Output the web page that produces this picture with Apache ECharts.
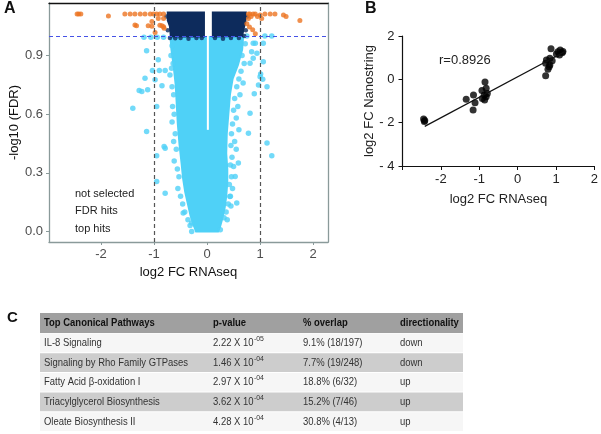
<!DOCTYPE html>
<html><head><meta charset="utf-8">
<script src="https://cdn.jsdelivr.net/npm/echarts@6/dist/echarts.min.js"></script>
<style>html,body{margin:0;padding:0;background:#fff}#c{width:601px;height:434px}</style>
</head><body><div id="c"></div>
<script>
// ---------- Panel A: volcano plot ----------
const volcanoXTicks = [-2, -1, 0, 1, 2];
const volcanoYTicks = [0, 0.3, 0.6, 0.9];
const fdrThreshold = 1.0;
const fcThresholds = [-1, 1];
// envelope of the dense "not selected" cloud
const coreEnvelope = [
  [-0.22,-0.005],[-0.27,0.03],[-0.33,0.08],[-0.38,0.14],[-0.43,0.20],[-0.47,0.27],[-0.50,0.35],
  [-0.54,0.45],[-0.57,0.55],[-0.59,0.65],[-0.61,0.75],[-0.65,0.85],[-0.69,0.93],[-0.71,1.0],
  [0.70,1.0],[0.68,0.93],[0.60,0.85],[0.50,0.78],[0.45,0.70],[0.42,0.60],[0.39,0.50],[0.38,0.40],
  [0.40,0.32],[0.40,0.25],[0.38,0.18],[0.35,0.12],[0.30,0.06],[0.26,0.02],[0.22,-0.005]
];
const centerGap = [[0.015,0.52],[0.015,1.0]];
// envelopes of the dense "FDR hits" blocks
const fdrLeftBlock = [[-0.76,1.125],[-0.04,1.125],[-0.04,0.992],[-0.70,0.992],[-0.72,1.05],[-0.76,1.08]];
const fdrRightBlock = [[0.09,1.125],[0.75,1.125],[0.74,1.07],[0.70,1.03],[0.68,0.995],[0.09,0.992]];
const fdrEdgePoints = [
  [-0.70,0.99],[-0.6,0.988],[-0.5,0.99],[-0.35,0.986],[-0.2,0.99],[-0.1,0.99],[0.15,0.99],
  [0.3,0.986],[0.45,0.99],[0.6,0.99],[0.7,1.0],[-0.74,1.03],[0.73,1.03],[-0.77,1.1],[0.76,1.1]
];
// scattered "not selected" points
const notSelectedPoints = [
  [-1.19,0.994],[-1.06,0.994],[-0.94,0.994],[-0.82,0.994],[-1.14,0.925],[-0.92,0.878],[-0.67,0.835],
  [-1.03,0.823],[-0.90,0.823],[-0.79,0.823],[-0.98,0.776],[-1.17,0.784],[-1.28,0.721],[-1.23,0.716],
  [-1.12,0.725],[-0.85,0.745],[-1.40,0.631],[-0.95,0.639],[-1.14,0.511],[-0.95,0.387],[-0.81,0.435],
  [-0.79,0.426],[-0.95,0.256],[-0.79,0.196],[-0.45,0.094],[-0.29,0.043],[-0.29,0.0],
  [0.75,1.0],[1.09,1.0],[1.22,1.0],[0.87,0.963],[1.06,0.963],[0.91,0.963],[0.84,0.92],[0.94,0.912],
  [0.87,0.886],[1.06,0.869],[0.81,0.861],[1.01,0.806],[1.0,0.792],[1.05,0.779],[0.97,0.75],[1.13,0.741],
  [0.89,0.704],[0.81,0.605],[0.78,0.503],[1.13,0.452],[1.22,0.387],[0.53,0.281],[0.56,0.145],[0.43,0.179],
  [0.38,0.06],[0.25,0.009],[0.59,0.35],[0.5,0.332],
  [-0.66,0.95],[-0.68,0.90],[-0.64,0.86],[-0.70,0.80],[-0.66,0.74],[-0.63,0.70],[-0.65,0.64],[-0.62,0.60],
  [-0.66,0.56],[-0.60,0.50],[-0.63,0.46],[-0.58,0.42],[-0.62,0.36],[-0.56,0.32],[-0.53,0.28],[-0.55,0.22],
  [-0.50,0.18],[-0.46,0.14],[-0.42,0.10],[-0.36,0.06],[-0.32,0.03],
  [0.72,0.96],[0.66,0.90],[0.70,0.86],[0.64,0.82],[0.60,0.78],[0.68,0.76],[0.56,0.74],[0.62,0.70],
  [0.52,0.68],[0.58,0.64],[0.50,0.62],[0.55,0.58],[0.48,0.55],[0.60,0.52],[0.46,0.50],[0.52,0.46],
  [0.45,0.44],[0.55,0.42],[0.47,0.38],[0.44,0.34],[0.46,0.28],[0.48,0.22],[0.44,0.18],[0.40,0.14],
  [0.36,0.10],[0.32,0.07],[0.42,0.24],[0.45,0.13]
];
const topHitPoints = [
  [-2.45,1.113],[-2.42,1.113],[-2.38,1.113],[-1.86,1.103],[-1.55,1.113],[-1.45,1.113],[-1.36,1.113],
  [-1.26,1.113],[-1.17,1.113],[-1.07,1.113],[-1.01,1.113],[-0.95,1.113],[-0.89,1.113],[-0.82,1.113],
  [-1.36,1.057],[-1.33,1.052],[-1.11,1.052],[-1.04,1.05],[-0.89,1.055],[-0.85,1.052],[-0.82,1.048],
  [-0.81,1.04],[-0.98,1.018],[-0.82,1.09],[-0.92,1.09],[-1.04,1.074],
  [0.78,1.113],[0.81,1.113],[0.87,1.113],[0.91,1.113],[1.0,1.108],[1.09,1.113],[1.19,1.113],
  [1.28,1.113],[1.44,1.108],[1.49,1.10],[1.75,1.079],[0.78,1.09],[0.75,1.063],[0.80,1.046],
  [0.86,1.032],[0.91,1.012],[1.03,1.09],[0.95,1.10],[0.83,1.10]
];
const legendLabels = ['not selected', 'FDR hits', 'top hits'];

// ---------- Panel B: Nanostring vs RNAseq ----------
const nanoPoints = [
  [-2.45,-1.83],[-2.43,-1.95],[-2.42,-1.9],[-1.34,-0.92],[-1.15,-0.72],[-1.11,-1.08],[-1.16,-1.41],
  [-0.85,-0.12],[-0.93,-0.52],[-0.82,-0.41],[-0.87,-0.72],[-0.92,-0.88],[-0.82,-0.8],[-0.86,-0.95],
  [-0.79,-0.65],[0.87,1.41],[0.75,0.89],[0.73,0.74],[0.84,0.66],[0.79,0.46],[0.73,0.17],[0.9,0.86],
  [0.84,0.97],[1.05,1.27],[1.09,1.12],[1.16,1.23],[1.11,1.35],[1.01,1.17],[1.18,1.29],[0.82,0.58]
];
const regressionLine = [[-2.42,-2.17],[1.26,1.31]];
const correlationText = 'r=0.8926';

// ---------- Panel C: table ----------
const tableHeaders = ['Top Canonical Pathways', 'p-value', '% overlap', 'directionality'];
const pathways = ['IL-8 Signaling', 'Signaling by Rho Family GTPases', 'Fatty Acid \u03b2-oxidation I',
  'Triacylglycerol Biosynthesis', 'Oleate Biosynthesis II'];
const pMantissa = ['2.22', '1.46', '2.97', '3.62', '4.28'];
const pExponent = ['-05', '-04', '-04', '-04', '-04'];
const overlaps = ['9.1% (18/197)', '7.7% (19/248)', '18.8% (6/32)', '15.2% (7/46)', '30.8% (4/13)'];
const directions = ['down', 'down', 'up', 'up', 'up'];

// ---------- styles ----------
const FONT = '"Liberation Sans", Arial, Helvetica, sans-serif';
const LIGHT = '#4fd1f7', NAVY = '#0d2b5c', ORANGE = '#ec7422';
const AXA = '#8a9a9a';
const TFONT = '11px ' + FONT;
const TSCALE = 0.86;

function polygonSeries(points, color, xi, yi) {
  return {
    type: 'custom', xAxisIndex: xi, yAxisIndex: yi, silent: true, animation: false,
    data: [points[0]],
    renderItem: (p, api) => ({
      type: 'polygon',
      shape: { points: points.map(pt => api.coord(pt)) },
      style: { fill: color }
    })
  };
}

const measureCtx = document.createElement('canvas').getContext('2d');
function textWidth(t, font) { measureCtx.font = font; return measureCtx.measureText(t).width; }

const graphic = [];
function txt(x, y, text, opts, sx) {
  graphic.push({ type: 'text', x, y, scaleX: sx || 1, silent: true,
    style: Object.assign({ text, fill: '#333', font: '13px ' + FONT, textAlign: 'left', textVerticalAlign: 'middle' }, opts || {}) });
}
txt(4, 9, 'A', { font: 'bold 16px ' + FONT, fill: '#111' });
txt(365, 9, 'B', { font: 'bold 16px ' + FONT, fill: '#111' });
txt(7, 318, 'C', { font: 'bold 15px ' + FONT, fill: '#111' });
legendLabels.forEach((l, i) => txt(75, 194 + i * 17.3, l, { font: '11px ' + FONT, fill: '#222' }));
txt(439, 60, correlationText, { font: '13px ' + FONT, fill: '#222' });

// table
const tblX = 40, tblW = 423, headTop = 313, headH = 20, rowH = 19.7;
const colX = [44, 213, 303, 400];
graphic.push({ type: 'rect', silent: true, shape: { x: tblX, y: headTop, width: tblW, height: headH }, style: { fill: '#a0a0a0' } });
tableHeaders.forEach((h, i) => txt(colX[i], headTop + headH / 2, h, { font: 'bold ' + TFONT, fill: '#111' }, TSCALE));
pathways.forEach((p, r) => {
  const top = headTop + headH + r * rowH;
  graphic.push({ type: 'rect', silent: true, shape: { x: tblX, y: top + 0.5, width: tblW, height: rowH - 1 },
    style: { fill: r % 2 === 1 ? '#cdcdcd' : '#f6f6f6' } });
  const cy = top + rowH / 2;
  txt(colX[0], cy, p, { font: TFONT, fill: '#333' }, TSCALE);
  const base = pMantissa[r] + ' X 10';
  txt(colX[1], cy, base, { font: TFONT, fill: '#333' }, TSCALE);
  txt(colX[1] + textWidth(base, TFONT) * TSCALE + 0.5, cy - 4, pExponent[r], { font: '8px ' + FONT, fill: '#333' }, TSCALE);
  txt(colX[2], cy, overlaps[r], { font: TFONT, fill: '#333' }, TSCALE);
  txt(colX[3], cy, directions[r], { font: TFONT, fill: '#333' }, TSCALE);
});

const chart = echarts.init(document.getElementById('c'), null, { renderer: 'canvas' });
chart.setOption({
  animation: false,
  backgroundColor: '#fff',
  textStyle: { fontFamily: FONT },
  grid: [
    { left: 49, top: 3, width: 279, height: 239 },
    { left: 402.5, top: 36, width: 196, height: 130 }
  ],
  xAxis: [
    { gridIndex: 0, type: 'value', min: -2.98, max: 2.28,
      name: 'log2 FC RNAseq', nameLocation: 'middle', nameGap: 22,
      nameTextStyle: { fontSize: 13, color: '#111' },
      axisLine: { onZero: false, lineStyle: { color: AXA, width: 1.3 } },
      axisTick: { length: 3, lineStyle: { color: AXA }, customValues: volcanoXTicks },
      axisLabel: { fontSize: 13, color: '#4d4d4d', margin: 6, customValues: volcanoXTicks },
      splitLine: { show: false } },
    { gridIndex: 0, type: 'value', position: 'top', min: -2.98, max: 2.28,
      axisLine: { show: true, onZero: false, lineStyle: { color: '#111', width: 1.3 } },
      axisTick: { show: false }, axisLabel: { show: false }, splitLine: { show: false } },
    { gridIndex: 1, type: 'value', min: -3, max: 2, interval: 1,
      name: 'log2 FC RNAseq', nameLocation: 'middle', nameGap: 27,
      nameTextStyle: { fontSize: 13, color: '#222' },
      axisLine: { onZero: false, lineStyle: { color: '#111', width: 1.2 } },
      axisTick: { length: 4, lineStyle: { color: '#111' } },
      axisLabel: { fontSize: 13, color: '#222', margin: 7, formatter: v => v === -3 ? '' : String(v) },
      splitLine: { show: false } }
  ],
  yAxis: [
    { gridIndex: 0, type: 'value', min: -0.054, max: 1.169,
      name: '-log10 (FDR)', nameLocation: 'middle', nameGap: 28,
      nameTextStyle: { fontSize: 13, color: '#111' },
      axisLine: { show: true, onZero: false, lineStyle: { color: AXA, width: 1.3 } },
      axisTick: { show: true, length: 3, lineStyle: { color: AXA }, customValues: volcanoYTicks },
      axisLabel: { fontSize: 13, color: '#4d4d4d', margin: 6, customValues: volcanoYTicks, formatter: v => v.toFixed(1) },
      splitLine: { show: false } },
    { gridIndex: 0, type: 'value', position: 'right', min: -0.054, max: 1.169,
      axisLine: { show: true, onZero: false, lineStyle: { color: AXA, width: 1.3 } },
      axisTick: { show: false }, axisLabel: { show: false }, splitLine: { show: false } },
    { gridIndex: 1, type: 'value', min: -4, max: 2, interval: 2,
      name: 'log2 FC Nanostring', nameLocation: 'middle', nameGap: 26,
      nameTextStyle: { fontSize: 13, color: '#222' },
      axisLine: { show: true, onZero: false, lineStyle: { color: '#111', width: 1.2 } },
      axisTick: { show: true, length: 4, lineStyle: { color: '#111' } },
      axisLabel: { fontSize: 13, color: '#222', margin: 8, formatter: v => v < 0 ? '- ' + Math.abs(v) : String(v) },
      splitLine: { show: false } }
  ],
  series: [
    polygonSeries(coreEnvelope, LIGHT, 0, 0),
    { type: 'scatter', xAxisIndex: 0, yAxisIndex: 0, data: notSelectedPoints, symbolSize: 5.5,
      itemStyle: { color: LIGHT }, silent: true },
    { type: 'line', xAxisIndex: 0, yAxisIndex: 0, data: centerGap, showSymbol: false, silent: true,
      lineStyle: { color: '#fff', width: 2 } },
    polygonSeries(fdrLeftBlock, NAVY, 0, 0),
    polygonSeries(fdrRightBlock, NAVY, 0, 0),
    { type: 'scatter', xAxisIndex: 0, yAxisIndex: 0, data: fdrEdgePoints, symbolSize: 4.5,
      itemStyle: { color: NAVY }, silent: true },
    { type: 'scatter', xAxisIndex: 0, yAxisIndex: 0, data: topHitPoints, symbolSize: 5,
      itemStyle: { color: ORANGE }, silent: true,
      markLine: { silent: true, symbol: 'none', label: { show: false }, animation: false,
        data: [
          ...fcThresholds.map(v => ({ xAxis: v, lineStyle: { color: '#555', type: [4, 3], width: 1.2 } })),
          { yAxis: fdrThreshold, lineStyle: { color: '#4652e6', type: [4, 3], width: 1 } }
        ] } },
    { type: 'line', xAxisIndex: 2, yAxisIndex: 2, data: regressionLine, showSymbol: false, silent: true,
      lineStyle: { color: '#111', width: 1.2 } },
    { type: 'scatter', xAxisIndex: 2, yAxisIndex: 2, data: nanoPoints, symbolSize: 7,
      itemStyle: { color: '#000' }, silent: true }
  ],
  graphic: graphic
});
</script>
</body></html>
